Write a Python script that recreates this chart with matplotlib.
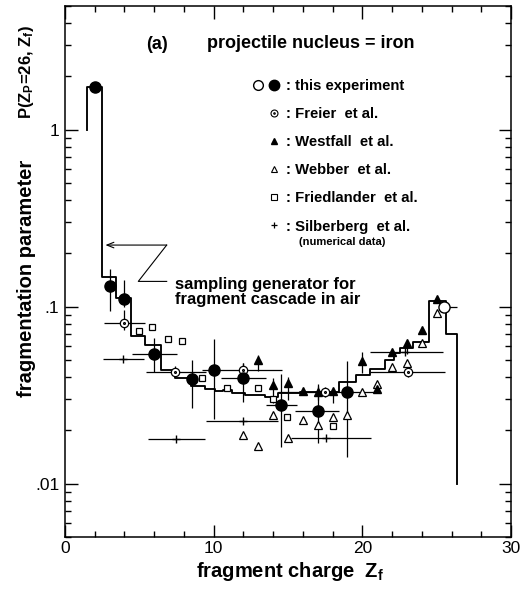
import numpy as np
import matplotlib
matplotlib.use("Agg")
import matplotlib.pyplot as plt
from matplotlib.lines import Line2D
from matplotlib.path import Path
from matplotlib.legend_handler import HandlerTuple
from matplotlib.ticker import (FixedLocator, LogLocator, MultipleLocator,
                               FuncFormatter, NullFormatter)

plt.rcParams['font.family'] = ['Liberation Sans', 'DejaVu Sans']
plt.rcParams['mathtext.fontset'] = 'custom'
plt.rcParams['mathtext.rm'] = 'Liberation Sans:bold'
plt.rcParams['mathtext.it'] = 'Liberation Sans:bold'
plt.rcParams['mathtext.bf'] = 'Liberation Sans:bold'

# ---------------- data ----------------
# this experiment (filled circles)
exp_z = [2, 3, 4, 6, 8.55, 10, 12, 14.5, 17, 19]
exp_p = [1.75, 0.131, 0.110, 0.0543, 0.039, 0.044, 0.0395, 0.0279, 0.0256, 0.0328]
exp_p_lo = [1.75, 0.094, 0.100, 0.043, 0.0267, 0.0232, 0.029, 0.0162, 0.0169, 0.0142]
exp_p_hi = [1.75, 0.163, 0.141, 0.0663, 0.050, 0.0656, 0.048, 0.0416, 0.0364, 0.0491]
exp_z_lo = [2, 3, 4, 4.5, 8.55, 10, 10.5, 13.55, 15.5, 19]
exp_z_hi = [2, 3, 4, 7.5, 8.55, 10, 13.5, 15.6, 18.45, 19]

# this experiment, heaviest bin (open circle)
exp_open_z = [25.5]
exp_open_p = [0.100]
exp_open_z_lo = [25.2]
exp_open_z_hi = [26.4]

# Freier et al.
freier_z = [4, 7.4, 12, 17.5, 23.05]
freier_p = [0.081, 0.0425, 0.0437, 0.0328, 0.0428]
freier_p_lo = [0.074, 0.040, 0.041, 0.031, 0.040]
freier_p_hi = [0.096, 0.046, 0.048, 0.035, 0.045]
freier_z_lo = [2.6, 5.45, 9.2, 14.3, 20.5]
freier_z_hi = [5.4, 9.5, 14.6, 20.8, 25.55]

# Westfall et al.
westfall_z = [13, 14, 15, 16, 17, 18, 20, 21, 22, 23, 24, 25]
westfall_p = [0.0502, 0.0362, 0.0371, 0.0334, 0.0330, 0.0334, 0.0491, 0.0345,
              0.0552, 0.0624, 0.0742, 0.111]
westfall_p_lo = [0.0431, 0.0285, 0.0298, 0.0334, 0.0298, 0.0285, 0.0422, 0.0345,
                 0.0552, 0.054, 0.0742, 0.111]
westfall_p_hi = [0.0536, 0.0396, 0.0401, 0.0334, 0.0355, 0.0342, 0.0552, 0.0345,
                 0.0552, 0.0624, 0.0742, 0.111]

# Webber et al.
webber_z = [12, 13, 14, 15, 16, 17, 18, 19, 20, 21, 22, 23, 24, 25]
webber_p = [0.0189, 0.0163, 0.0245, 0.0182, 0.0230, 0.0216, 0.0237, 0.0245,
            0.0328, 0.0367, 0.0454, 0.0481, 0.0625, 0.0924]

# Friedlander et al.
friedlander_z = [4.95, 5.85, 6.9, 7.9, 9.2, 10.9, 13, 14, 14.9, 18]
friedlander_p = [0.0733, 0.0766, 0.0657, 0.0640, 0.0395, 0.0347, 0.0347,
                 0.0300, 0.0237, 0.0212]

# Silberberg et al. (numerical data)
silberberg_z = [3.9, 7.45, 11.95, 17.55, 22.9]
silberberg_p = [0.0508, 0.0179, 0.0227, 0.0182, 0.0552]
silberberg_z_lo = [2.55, 5.6, 9.5, 15.2, 20.5]
silberberg_z_hi = [5.3, 9.4, 14.35, 20.55, 25.4]

# sampling generator for the fragment cascade in air (step histogram)
gen_edges = [1.45, 2.5, 3.45, 4.45, 5.35, 6.45, 7.4, 8.5, 9.4, 10.1, 10.65,
             11.2, 12.1, 13.45, 14.35, 15.8, 18.4, 19.6, 20.5, 21.5, 22.1,
             22.5, 23.4, 24.5, 25.6, 26.4]
gen_p = [1.75, 0.148, 0.112, 0.068, 0.061, 0.044, 0.0397, 0.0358, 0.0343,
         0.0334, 0.0338, 0.0325, 0.0318, 0.031, 0.0325, 0.0329, 0.0376,
         0.0410, 0.0446, 0.050, 0.0548, 0.0585, 0.063, 0.108, 0.070]
gen_start = 1.0
gen_end = 0.01

x_ticks = [0, 10, 20, 30]
y_ticks = [0.01, 0.1, 1]
y_tick_labels = {0.01: '.01', 0.1: '.1', 1: '1'}

# ---------------- figure ----------------
fig = plt.figure(figsize=(5.21, 5.95), dpi=100)
ax = fig.add_axes([0.12476, 0.09748, 0.85605, 0.89244])
ax.set_xscale('linear')
ax.set_yscale('log')
ax.set_xlim(0, 30)
ax.set_ylim(0.005, 5)

K = 'black'
ebkw = dict(ls='none', ecolor=K, elinewidth=0.9, capsize=0)


def errs(c, lo, hi):
    c, lo, hi = map(np.asarray, (c, lo, hi))
    return np.vstack([c - lo, hi - c])


# generator histogram
hx = np.r_[gen_edges[0], gen_edges]
hy = np.r_[gen_start, gen_p, gen_end]
ax.plot(hx, hy, drawstyle='steps-post', color=K, lw=1.35, zorder=2)

# error bars
ax.errorbar(exp_z, exp_p, yerr=errs(exp_p, exp_p_lo, exp_p_hi),
            xerr=errs(exp_z, exp_z_lo, exp_z_hi), fmt='none', zorder=3, **ebkw)
ax.errorbar(exp_open_z, exp_open_p,
            xerr=errs(exp_open_z, exp_open_z_lo, exp_open_z_hi), fmt='none',
            zorder=3, **ebkw)
ax.errorbar(freier_z, freier_p, yerr=errs(freier_p, freier_p_lo, freier_p_hi),
            xerr=errs(freier_z, freier_z_lo, freier_z_hi), fmt='none',
            zorder=3, **ebkw)
ax.errorbar(westfall_z, westfall_p,
            yerr=errs(westfall_p, westfall_p_lo, westfall_p_hi), fmt='none',
            zorder=3, **ebkw)
ax.errorbar(silberberg_z, silberberg_p,
            xerr=errs(silberberg_z, silberberg_z_lo, silberberg_z_hi),
            fmt='none', zorder=3, **ebkw)

# marker for Freier et al.: circle with central dot
_c = Path.unit_circle()
odot = Path.make_compound_path(_c, Path(_c.vertices * 0.22, _c.codes))

ax.plot(webber_z, webber_p, ls='none', marker='^', ms=5.5, mfc='white',
        mec=K, mew=0.9, zorder=4)
ax.plot(friedlander_z, friedlander_p, ls='none', marker='s', ms=5, mfc='white',
        mec=K, mew=0.9, zorder=4)
ax.plot(silberberg_z, silberberg_p, ls='none', marker='+', ms=6, mec=K,
        mew=1.0, zorder=4)
ax.plot(westfall_z, westfall_p, ls='none', marker='^', ms=6, mfc=K, mec=K,
        zorder=5)
ax.plot(freier_z, freier_p, ls='none', marker=odot, ms=6, mfc='white', mec=K,
        mew=0.9, zorder=5)
ax.plot(exp_z, exp_p, ls='none', marker='o', ms=8, mfc=K, mec=K, zorder=6)
ax.plot(exp_open_z, exp_open_p, ls='none', marker='o', ms=8, mfc='white',
        mec=K, mew=1.0, zorder=6)

# ---------------- axes styling ----------------
for s in ax.spines.values():
    s.set_linewidth(1.1)
ax.xaxis.set_major_locator(FixedLocator(x_ticks))
ax.xaxis.set_minor_locator(MultipleLocator(2))
ax.yaxis.set_major_locator(FixedLocator(y_ticks))
ax.yaxis.set_minor_locator(LogLocator(base=10, subs=np.arange(2, 10), numticks=20))
ax.yaxis.set_minor_formatter(NullFormatter())
ax.yaxis.set_major_formatter(FuncFormatter(lambda v, _: y_tick_labels.get(round(v, 4), '')))
ax.tick_params(which='both', direction='in', top=True, right=True, width=1.0,
               labelsize=12.5)
ax.tick_params(which='major', length=9)
ax.tick_params(which='minor', length=4.5)
ax.tick_params(axis='x', pad=3)
ax.tick_params(axis='y', pad=4)

fig.text(0.5576, 0.0403, 'fragment charge  Z$_{\\mathrm{f}}$', fontsize=14.5,
         fontweight='bold', ha='center', va='center')
fig.text(0.050, 0.532, 'fragmentation parameter', fontsize=14.5,
         fontweight='bold', rotation=90, ha='center', va='center')
fig.text(0.050, 0.8798, 'P(Z$_{\\mathrm{P}}$=26, Z$_{\\mathrm{f}}$)', fontsize=12,
         fontweight='bold', rotation=90, ha='center', va='center')

# panel title
ax.text(0.2309, 0.928, '(a)', transform=ax.transAxes, fontsize=13,
        fontweight='bold', ha='right', va='center')
ax.text(0.3177, 0.9298, 'projectile nucleus = iron', transform=ax.transAxes,
        fontsize=13, fontweight='bold', ha='left', va='center')

# legend
blank = Line2D([], [], ls='none', marker=None)
h_exp = (Line2D([], [], ls='none', marker='o', ms=7, mfc='white', mec=K, mew=1.0),
         Line2D([], [], ls='none', marker='o', ms=7.5, mfc=K, mec=K))
h_fr = (blank, Line2D([], [], ls='none', marker=odot, ms=5, mfc='white', mec=K, mew=0.8))
h_wf = (blank, Line2D([], [], ls='none', marker='^', ms=5, mfc=K, mec=K))
h_wb = (blank, Line2D([], [], ls='none', marker='^', ms=5, mfc='white', mec=K, mew=0.8))
h_fd = (blank, Line2D([], [], ls='none', marker='s', ms=4.5, mfc='white', mec=K, mew=0.8))
h_sb = (blank, Line2D([], [], ls='none', marker='+', ms=5, mec=K, mew=0.9))
leg = ax.legend([h_exp, h_fr, h_wf, h_wb, h_fd, h_sb],
                [': this experiment', ': Freier  et al.', ': Westfall  et al.',
                 ': Webber  et al.', ': Friedlander  et al.', ': Silberberg  et al.'],
                handler_map={tuple: HandlerTuple(ndivide=None, pad=0)},
                loc='upper left', bbox_to_anchor=(0.415, 0.8625),
                frameon=False, borderaxespad=0, borderpad=0,
                handlelength=2.15, handletextpad=0.25, labelspacing=0.95,
                prop={'weight': 'bold', 'size': 10.7})
ax.text(0.5247, 0.5561, '(numerical data)', transform=ax.transAxes,
        fontsize=8, fontweight='bold', ha='left', va='center')

# leader from the label to the generator histogram
ax.annotate('', xy=(2.72, 0.223), xytext=(6.84, 0.223),
            arrowprops=dict(arrowstyle='->,head_length=0.5,head_width=0.2',
                            color=K, lw=0.8, shrinkA=0, shrinkB=0))
ax.plot([6.84, 4.93, 6.84], [0.223, 0.139, 0.139], color=K, lw=0.8)
ax.text(0.2466, 0.4614, 'sampling generator for\nfragment cascade in air',
        transform=ax.transAxes, fontsize=12, fontweight='bold', ha='left',
        va='center', linespacing=1.05)

fig.savefig('out.png', dpi=100)
